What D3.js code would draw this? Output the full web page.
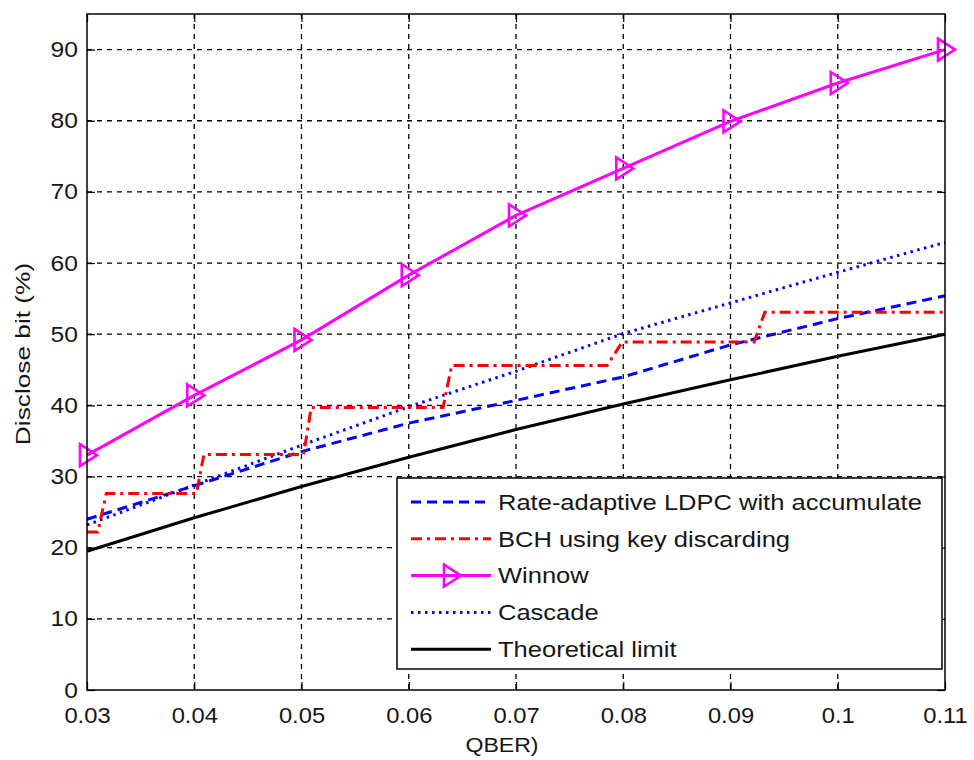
<!DOCTYPE html>
<html>
<head>
<meta charset="utf-8">
<script src="https://cdn.jsdelivr.net/npm/d3@7"></script>
<style>
  html, body { margin: 0; padding: 0; background: #fff; }
  svg { display: block; }
  text { font-family: Arial, "Liberation Sans", sans-serif; fill: #161616; }
</style>
</head>
<body>
<svg id="chart" width="974" height="760"></svg>
<script>
// QBER values where each scheme was evaluated
const qber = [0.03, 0.04, 0.05, 0.06, 0.07, 0.08, 0.09, 0.10, 0.11];

// Disclosed bits (%) per scheme
const ldpc     = [24.0, 28.7, 33.5, 37.5, 40.7, 44.0, 48.5, 52.2, 55.4];
const winnow   = [33.0, 41.4, 49.2, 58.3, 66.7, 73.3, 79.9, 85.3, 90.0];
const cascade  = [23.2, 28.8, 34.4, 39.8, 44.8, 50.1, 54.4, 58.7, 62.9];
const theory   = [19.5, 24.2, 28.6, 32.7, 36.6, 40.2, 43.6, 46.9, 50.0];

// BCH with key discarding is a staircase: [QBER, disclosed %]
const bchQ = [0.030, 0.031, 0.0318, 0.0402, 0.0409, 0.0502, 0.0509, 0.0632, 0.0640, 0.0785, 0.0799, 0.0922, 0.0932, 0.110];
const bchV = [22.2,  22.2,  27.6,   27.6,   33.1,   33.1,   39.7,   39.7,   45.6,   45.6,   48.9,   48.9,   53.1,   53.1];

const xTicks = [0.03, 0.04, 0.05, 0.06, 0.07, 0.08, 0.09, 0.1, 0.11];
const yTicks = [0, 10, 20, 30, 40, 50, 60, 70, 80, 90];

const legendLabels = [
  "Rate-adaptive LDPC with accumulate",
  "BCH using key discarding",
  "Winnow",
  "Cascade",
  "Theoretical limit"
];

const W = 974, H = 760;
const margin = { left: 87, right: 29, top: 14, bottom: 70 };
const iw = W - margin.left - margin.right;
const ih = H - margin.top - margin.bottom;

const svg = d3.select("#chart");
const g = svg.append("g").attr("transform", `translate(${margin.left},${margin.top})`);

const x = d3.scaleLinear().domain([0.03, 0.11]).range([0, iw]);
const y = d3.scaleLinear().domain([0, 95]).range([ih, 0]);

// grid
g.append("g").selectAll("line").data(xTicks.slice(1, -1)).join("line")
  .attr("x1", d => x(d)).attr("x2", d => x(d)).attr("y1", 0).attr("y2", ih)
  .attr("stroke", "#000").attr("stroke-width", 1.3).attr("stroke-dasharray", "5,5");
g.append("g").selectAll("line").data(yTicks.slice(1)).join("line")
  .attr("x1", 0).attr("x2", iw).attr("y1", d => y(d)).attr("y2", d => y(d))
  .attr("stroke", "#000").attr("stroke-width", 1.3).attr("stroke-dasharray", "5,5");

// axes (ticks inward on all four sides)
const fmtX = d => String(+d.toFixed(2));
const axB = g.append("g").attr("transform", `translate(0,${ih})`)
  .call(d3.axisBottom(x).tickValues(xTicks).tickSizeInner(-8).tickSizeOuter(0).tickPadding(17).tickFormat(fmtX));
const axT = g.append("g")
  .call(d3.axisTop(x).tickValues(xTicks).tickSizeInner(-8).tickSizeOuter(0).tickFormat(""));
const axL = g.append("g")
  .call(d3.axisLeft(y).tickValues(yTicks).tickSizeInner(-8).tickSizeOuter(0).tickPadding(0));
const axR = g.append("g").attr("transform", `translate(${iw},0)`)
  .call(d3.axisRight(y).tickValues(yTicks).tickSizeInner(-8).tickSizeOuter(0).tickFormat(""));
[axB, axT, axL, axR].forEach(a => {
  a.select(".domain").remove();
  a.selectAll(".tick line").attr("stroke", "#000").attr("stroke-width", 1.2);
  a.selectAll("text").style("font-size", "22px").attr("fill", "#161616");
});
// slightly wide lettering
axB.selectAll("text").attr("transform", "scale(1.08,1)");
axL.selectAll("text").attr("x", 0).attr("transform", "translate(-9,0) scale(1.12,1)");

// series
const line = d3.line().x(d => x(d[0])).y(d => y(d[1]));
const zip = (a, b) => a.map((v, i) => [v, b[i]]);

g.append("path").datum(zip(qber, theory)).attr("d", line)
  .attr("fill", "none").attr("stroke", "#000").attr("stroke-width", 3);
g.append("path").datum(zip(qber, cascade)).attr("d", line)
  .attr("fill", "none").attr("stroke", "#0000ff").attr("stroke-width", 3).attr("stroke-dasharray", "2.5,4.5");
g.append("path").datum(zip(qber, ldpc)).attr("d", line)
  .attr("fill", "none").attr("stroke", "#0000ff").attr("stroke-width", 3).attr("stroke-dasharray", "10,6");
g.append("path").datum(zip(bchQ, bchV)).attr("d", line)
  .attr("fill", "none").attr("stroke", "#ff0000").attr("stroke-width", 3).attr("stroke-dasharray", "11,5,3,5");
g.append("path").datum(zip(qber, winnow)).attr("d", line)
  .attr("fill", "none").attr("stroke", "#ff00ff").attr("stroke-width", 3);

// right-pointing triangle markers
const tri = "M-7,-11 L10,0 L-7,11 Z";
g.append("g").selectAll("path").data(zip(qber, winnow)).join("path")
  .attr("transform", d => `translate(${x(d[0])},${y(d[1])})`)
  .attr("d", tri).attr("fill", "none").attr("stroke", "#ff00ff").attr("stroke-width", 2.6);

// plot frame
g.append("rect").attr("x", 0).attr("y", 0).attr("width", iw).attr("height", ih)
  .attr("fill", "none").attr("stroke", "#000").attr("stroke-width", 1.5);

// axis titles
svg.append("text").attr("transform", `translate(${margin.left + iw / 2 - 14},752) scale(1.1,1)`)
  .attr("text-anchor", "middle").style("font-size", "21px").text("QBER)");
svg.append("text").attr("transform", `translate(30,${margin.top + ih / 2 + 2}) rotate(-90) scale(1.25,1)`)
  .attr("text-anchor", "middle").style("font-size", "21px").text("Disclose bit (%)");

// legend
const lg = svg.append("g").attr("transform", "translate(397,478)");
lg.append("rect").attr("width", 545).attr("height", 191)
  .attr("fill", "#fff").attr("stroke", "#000").attr("stroke-width", 1.5);
const styles = [
  { c: "#0000ff", dash: "10,6", marker: false },
  { c: "#ff0000", dash: "11,5,3,5", marker: false },
  { c: "#ff00ff", dash: null, marker: true },
  { c: "#0000ff", dash: "2.5,4.5", marker: false },
  { c: "#000000", dash: null, marker: false }
];
legendLabels.forEach((lab, i) => {
  const cy = 24 + i * 36.8;
  const s = styles[i];
  lg.append("line").attr("x1", 14).attr("x2", 94).attr("y1", cy).attr("y2", cy)
    .attr("stroke", s.c).attr("stroke-width", 3).attr("stroke-dasharray", s.dash);
  if (s.marker) {
    lg.append("path").attr("transform", `translate(54,${cy})`).attr("d", tri)
      .attr("fill", "none").attr("stroke", s.c).attr("stroke-width", 2.6);
  }
  lg.append("text").attr("transform", `translate(101,${cy}) scale(1.16,1)`).attr("dy", "0.35em")
    .style("font-size", "22px").text(lab);
});
</script>
</body>
</html>
